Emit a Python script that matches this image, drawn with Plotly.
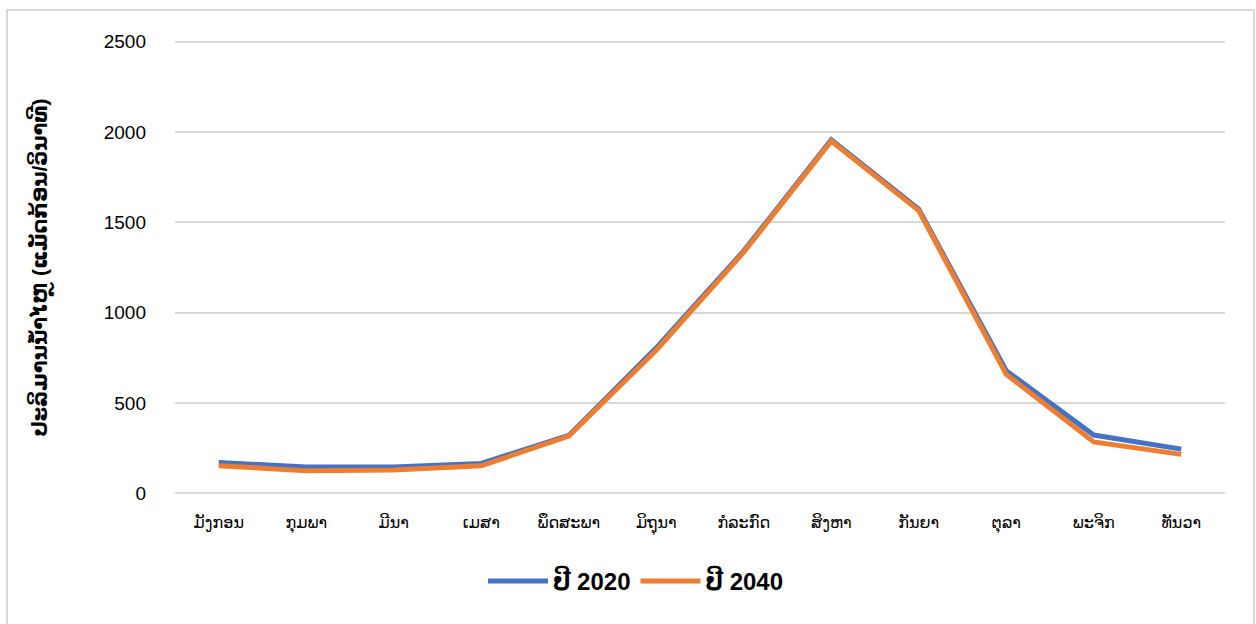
import plotly.graph_objects as go

months = ["ມັງກອນ", "ກຸມພາ", "ມີນາ", "ເມສາ", "ພຶດສະພາ", "ມິຖຸນາ",
          "ກໍລະກົດ", "ສິງຫາ", "ກັນຍາ", "ຕຸລາ", "ພະຈິກ", "ທັນວາ"]
flow_2020 = [170, 145, 145, 165, 320, 805, 1342, 1958, 1573, 678, 322, 244]
flow_2040 = [152, 125, 128, 152, 316, 792, 1335, 1950, 1565, 658, 284, 215]
series_names = ["ປີ 2020", "ປີ 2040"]
y_ticks = [0, 500, 1000, 1500, 2000, 2500]

W, H = 1256, 624
ML, MR, MT, MB = 175, 31, 40, 129
PW, PH = W - ML - MR, H - MT - MB
FONT = "Liberation Sans, Arial, DejaVu Sans, sans-serif"

fig = go.Figure()
fig.add_trace(go.Scatter(x=months, y=flow_2020, name=series_names[0], mode="lines",
                         line=dict(color="#4472C4", width=5)))
fig.add_trace(go.Scatter(x=months, y=flow_2040, name=series_names[1], mode="lines",
                         line=dict(color="#ED7D31", width=5)))

fig.update_layout(
    width=W, height=H,
    margin=dict(l=ML, r=MR, t=MT, b=MB),
    paper_bgcolor="white", plot_bgcolor="white",
    font=dict(family=FONT, color="black"),
    showlegend=True,
    legend=dict(orientation="h", x=(636 - ML) / PW, xanchor="center",
                y=-(559 - MT - PH) / PH, yanchor="top",
                font=dict(size=24, family=FONT, weight="bold"), itemwidth=60),
    xaxis=dict(type="category", range=[-0.5, 11.5], showgrid=False, zeroline=False,
               showline=False, ticks="", tickfont=dict(size=16, family=FONT),
               ticklabelstandoff=16),
    yaxis=dict(range=[-10, 2510], tickvals=y_ticks, showgrid=True, gridcolor="#d9d9d9",
               gridwidth=1.5, zeroline=False, showline=False, ticks="",
               tickfont=dict(size=19, family=FONT), ticklabelstandoff=28,
               title=dict(text="<b>ປະລິມານນ້ຳໄຫຼ (ແມັດກ້ອນ/ວິນາທີ)</b>",
                          font=dict(size=21, family=FONT), standoff=50)),
    shapes=[dict(type="rect", xref="paper", yref="paper",
                 x0=(7 - ML) / PW, x1=(1254 - ML) / PW,
                 y0=-(MB + 20) / PH, y1=(PH + MT - 10) / PH,
                 line=dict(color="#d9d9d9", width=2), fillcolor="rgba(0,0,0,0)",
                 layer="below")],
)

fig.write_html("out.html")
